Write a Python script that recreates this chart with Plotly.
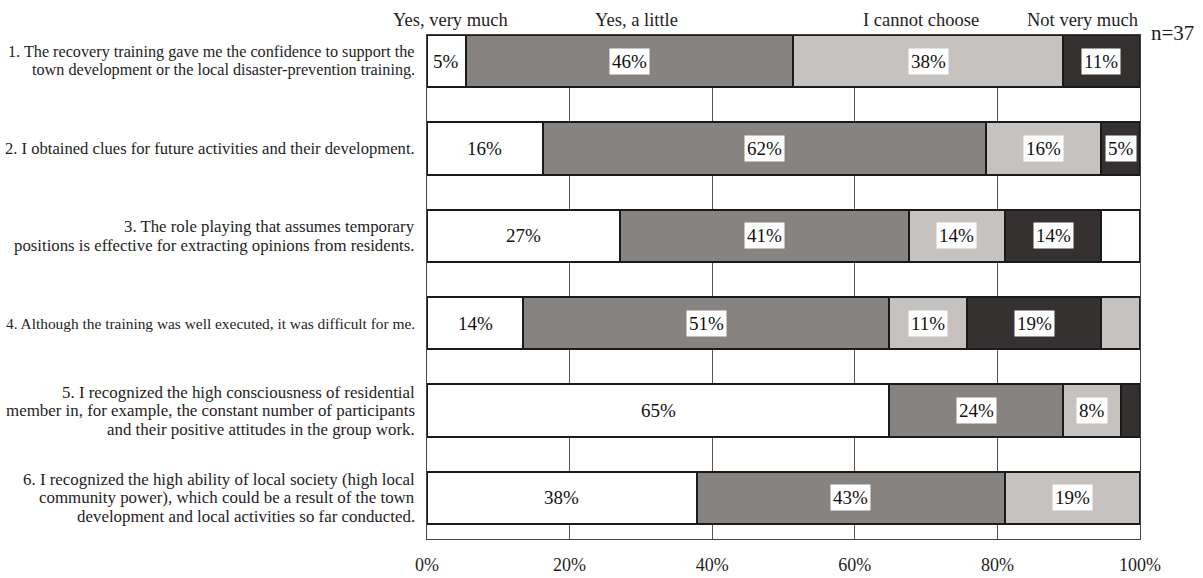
import plotly.graph_objects as go

N = 37
questions = [
    "1. The recovery training gave me the confidence to support the<br>town development or the local disaster-prevention training.",
    "2. I obtained clues for future activities and their development.",
    "3. The role playing that assumes temporary<br>positions is effective for extracting opinions from residents.",
    "4. Although the training was well executed, it was difficult for me.",
    "5. I recognized the high consciousness of residential<br>member in, for example, the constant number of participants<br>and their positive attitudes in the group work.",
    "6. I recognized the high ability of local society (high local<br>community power), which could be a result of the town<br>development and local activities so far conducted.",
]
question_font_sizes = [16.2, 16.6, 16.8, 15.4, 16.9, 16.9]

cat_names = ["Yes, very much", "Yes, a little", "I cannot choose", "Not very much", "Other"]
# response counts (n=37)
yes_very_much = [2, 6, 10, 5, 24, 14]
yes_a_little = [17, 23, 15, 19, 9, 16]
cannot_choose = [14, 6, 5, 4, 3, 7]
not_very_much = [4, 2, 5, 7, 1, 0]
other = [0, 0, 2, 2, 0, 0]

labels_very = ["5%", "16%", "27%", "14%", "65%", "38%"]
labels_little = ["46%", "62%", "41%", "51%", "24%", "43%"]
labels_cannot = ["38%", "16%", "14%", "11%", "8%", "19%"]
labels_notvery = ["11%", "5%", "14%", "19%", "", ""]
labels_other = ["", "", "", "", "", ""]

x_ticks = [0, 20, 40, 60, 80, 100]
x_tick_labels = ["0%", "20%", "40%", "60%", "80%", "100%"]

C_WHITE = "#ffffff"
C_GREY = "#878380"
C_LIGHT = "#c5c2bf"
C_DARK = "#363131"
other_colors = [C_WHITE, C_WHITE, C_WHITE, C_LIGHT, C_WHITE, C_WHITE]

series = [
    (yes_very_much, labels_very, C_WHITE),
    (yes_a_little, labels_little, C_GREY),
    (cannot_choose, labels_cannot, C_LIGHT),
    (not_very_much, labels_notvery, C_DARK),
    (other, labels_other, other_colors),
]

FONT = "Liberation Serif"
TXT = "#1e1e1e"
ypos = list(range(len(questions)))

fig = go.Figure()
annotations = []
cum = [0.0] * len(questions)
for (counts, labels, color), name in zip(series, cat_names):
    pct = [100.0 * c / N for c in counts]
    fig.add_trace(go.Bar(
        y=ypos, x=pct, orientation="h", name=name,
        marker=dict(color=color, line=dict(color="#1a1a1a", width=2)),
        hoverinfo="skip",
    ))
    for i, (p, lab) in enumerate(zip(pct, labels)):
        if lab:
            annotations.append(dict(
                x=cum[i] + p / 2, y=ypos[i], xref="x", yref="y", text=lab,
                showarrow=False, bgcolor="#ffffff", borderpad=2,
                font=dict(family=FONT, size=19, color="#111111"),
            ))
        cum[i] += p

LINE_GAP = 18.5
for i, q in enumerate(questions):
    lines = q.split("<br>")
    k = len(lines)
    for j, ln in enumerate(lines):
        annotations.append(dict(
            x=0, y=ypos[i], xref="paper", yref="y", text=ln, showarrow=False,
            xanchor="right", yanchor="middle", align="right", xshift=-10,
            yshift=-(j - (k - 1) / 2) * LINE_GAP,
            font=dict(family=FONT, size=question_font_sizes[i], color=TXT),
        ))

top_labels = [("Yes, very much", 0.0323), ("Yes, a little", 0.2945),
              ("I cannot choose", 0.6928), ("Not very much", 0.920)]
for txt, xp in top_labels:
    annotations.append(dict(
        x=xp, y=1.0298, xref="paper", yref="paper", text=txt, showarrow=False,
        xanchor="center", yanchor="middle",
        font=dict(family=FONT, size=18.5, color=TXT),
    ))
annotations.append(dict(
    x=1.0449, y=1.004, xref="paper", yref="paper", text="n=%d" % N, showarrow=False,
    xanchor="center", yanchor="middle",
    font=dict(family=FONT, size=21, color=TXT),
))

fig.update_layout(
    barmode="stack", bargap=0.4, showlegend=False,
    width=1203, height=578,
    margin=dict(l=427, r=63, t=35, b=39, autoexpand=False),
    paper_bgcolor="#ffffff", plot_bgcolor="#ffffff",
    annotations=annotations,
    font=dict(family=FONT),
    xaxis=dict(
        range=[0, 100], tickvals=x_ticks, ticktext=x_tick_labels,
        showgrid=True, gridcolor="#555555", gridwidth=1,
        showline=True, linecolor="#444444", linewidth=1, mirror=True,
        zeroline=False, ticks="", ticklabelstandoff=9, automargin=False,
        tickfont=dict(family=FONT, size=18, color=TXT),
    ),
    yaxis=dict(
        range=[5.47, -0.3], showticklabels=False, showgrid=False,
        showline=True, linecolor="#444444", linewidth=1, mirror=True,
        zeroline=False, automargin=False,
    ),
)

fig.write_html("out.html")
